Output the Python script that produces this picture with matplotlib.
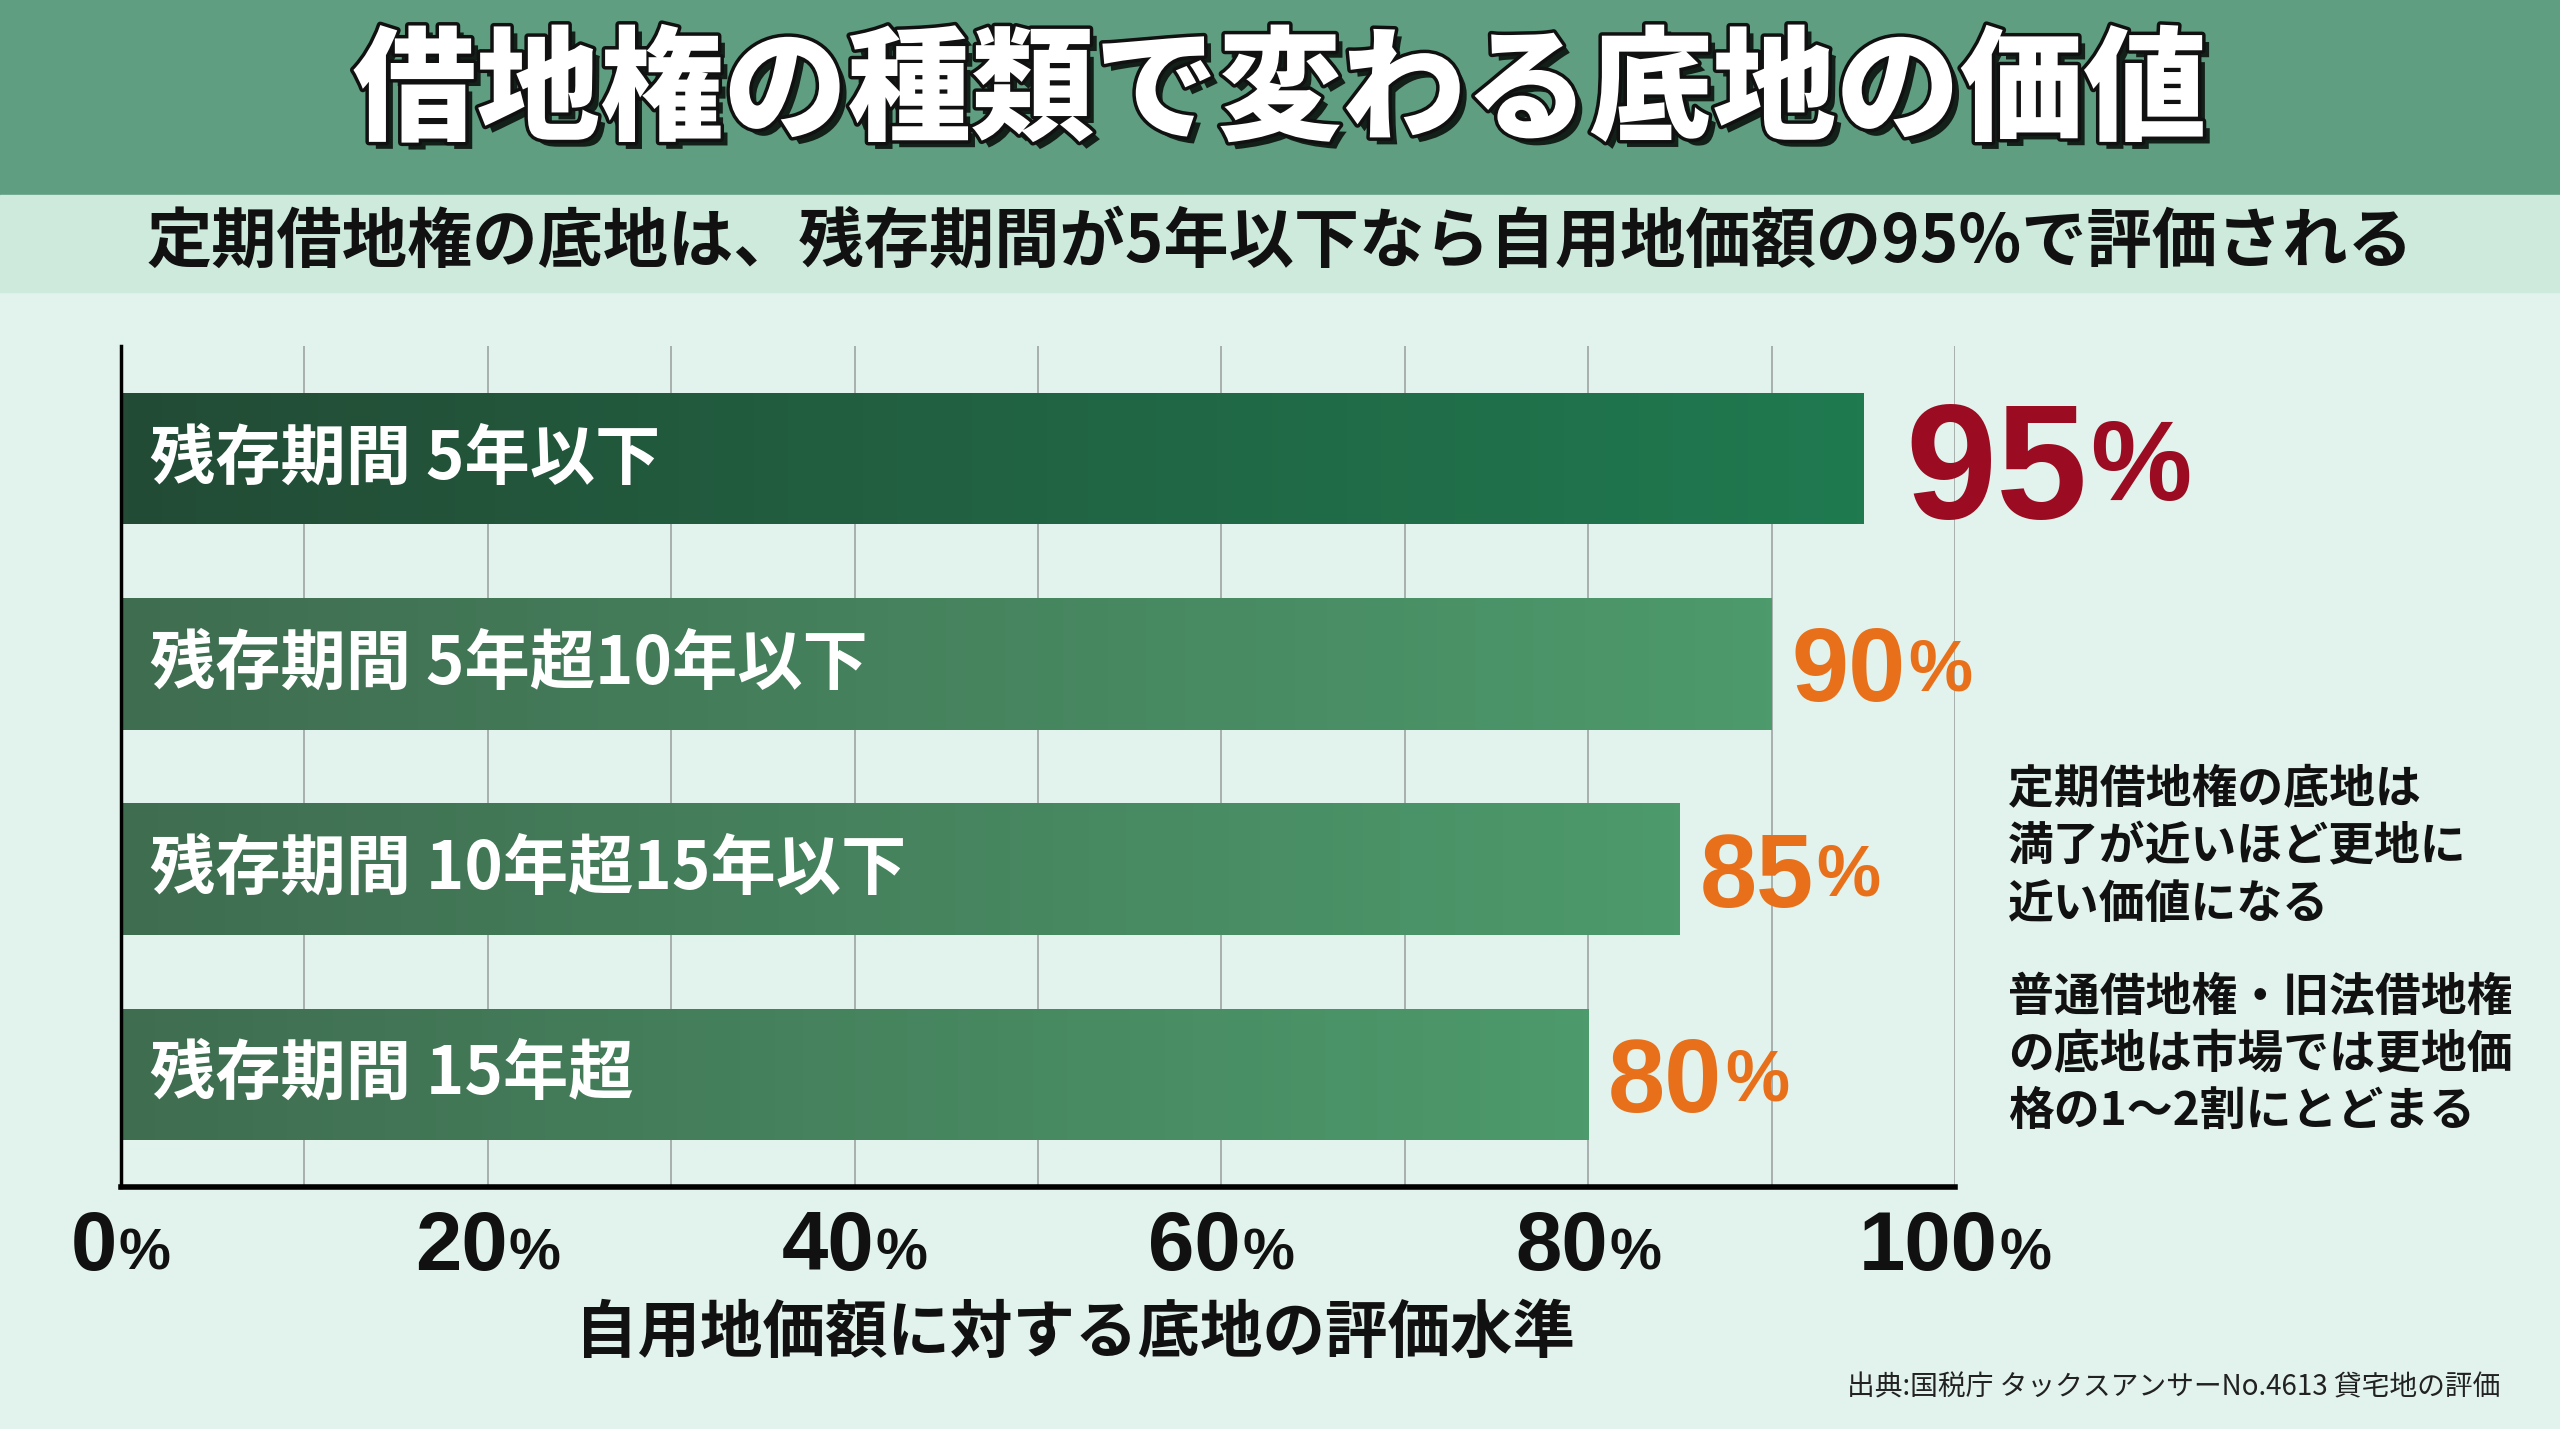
import numpy as np
import matplotlib.pyplot as plt
import matplotlib.patheffects as pe
from matplotlib.colors import LinearSegmentedColormap
from matplotlib.transforms import blended_transform_factory

plt.rcParams['font.family'] = ['Noto Sans CJK JP', 'DejaVu Sans']

# data
categories = ["残存期間 5年以下", "残存期間 5年超10年以下", "残存期間 10年超15年以下", "残存期間 15年超"]
values = [95, 90, 85, 80]
tick_values = [0, 20, 40, 60, 80, 100]
title = "借地権の種類で変わる底地の価値"
subtitle = "定期借地権の底地は、残存期間が5年以下なら自用地価額の95%で評価される"
xlabel = "自用地価額に対する底地の評価水準"
note_lines = ["定期借地権の底地は", "満了が近いほど更地に", "近い価値になる",
              "普通借地権・旧法借地権", "の底地は市場では更地価", "格の1〜2割にとどまる"]
source = "出典:国税庁 タックスアンサーNo.4613 貸宅地の評価"

BG = "#e2f3ed"
DIGITS = "Liberation Sans"
fig = plt.figure(figsize=(25.6, 14.29), dpi=100, facecolor=BG)
renderer = fig.canvas.get_renderer()

# header bands
fig.patches.append(plt.Rectangle((0, 1 - 195 / 1429), 1, 195 / 1429, transform=fig.transFigure,
                                 color="#5f9e80", zorder=0))
fig.patches.append(plt.Rectangle((0, 1 - 292 / 1429), 1, 97 / 1429, transform=fig.transFigure,
                                 color="#cdeadc", zorder=0))

fig.text(0.5, 1 - 94 / 1429, title, ha="center", va="center", fontsize=89, fontweight="heavy",
         color="white",
         path_effects=[pe.withSimplePatchShadow(offset=(5, -5), shadow_rgbFace="black", alpha=0.8),
                       pe.withStroke(linewidth=5, foreground="#111111")])
fig.text(0.5, 1 - 242 / 1429, subtitle, ha="center", va="center", fontsize=47,
         fontweight="bold", color="#111111")

ax = fig.add_axes([121 / 2560, 1 - 1187 / 1429, (1955 - 121) / 2560, (1187 - 346) / 1429])
ax.set_facecolor("none")
ax.set_xlim(0, 100)
ax.set_ylim(3.55, -0.55)
ax.set_xticks(np.arange(0, 101, 10))
ax.grid(axis="x", color="#a7b0ac", linewidth=1.4, zorder=0)
ax.tick_params(length=0, labelbottom=False, labelleft=False)
ax.set_yticks([])
for s in ["top", "right"]:
    ax.spines[s].set_visible(False)
ax.spines["left"].set_linewidth(2.5)
ax.spines["bottom"].set_linewidth(4)

ypos = np.arange(len(categories))
bars = ax.barh(ypos, values, height=0.64, color="none", zorder=2)

cmap_dark = LinearSegmentedColormap.from_list("d", ["#234b35", "#1f7a50"])
cmap_mid = LinearSegmentedColormap.from_list("m", ["#3f6d50", "#4d9a6c"])
grad = np.linspace(0, 1, 256).reshape(1, -1)
for i, b in enumerate(bars):
    x0, y0, w, h = b.get_x(), b.get_y(), b.get_width(), b.get_height()
    im = ax.imshow(grad, extent=(x0, x0 + w, y0 + h, y0), aspect="auto",
                   cmap=cmap_dark if i == 0 else cmap_mid, zorder=2)
    im.set_clip_path(b)
    ax.annotate(categories[i], (0, ypos[i]), xytext=(21, 0), textcoords="offset points",
                ha="left", va="center", fontsize=47, fontweight="bold", color="white", zorder=4)


def width_pt(t):
    return t.get_window_extent(renderer).width * 72 / fig.dpi


# value labels
for i, v in enumerate(values):
    if i == 0:
        color, big, small, off = "#9b0c22", 118, 82, 30
    else:
        color, big, small, off = "#e8701a", 74, 52, 14
    t = ax.annotate(str(v), (v, ypos[i]), xytext=(off, 0), textcoords="offset points",
                    ha="left", va="center_baseline", fontsize=big, fontweight="bold",
                    color=color, family=DIGITS, zorder=4)
    ax.annotate("%", (v, ypos[i]), xytext=(off + width_pt(t) + 2, 0), textcoords="offset points",
                ha="left", va="center_baseline", fontsize=small, fontweight="bold",
                color=color, family=DIGITS, zorder=4)

# tick labels with small percent sign
trans = blended_transform_factory(ax.transData, fig.transFigure)
ty = 1 - 1270 / 1429
for tv in tick_values:
    tn = ax.annotate(str(tv), (tv, ty), xycoords=trans, xytext=(0, 0), textcoords="offset points",
                     ha="left", va="baseline", fontsize=60, fontweight="bold",
                     family=DIGITS, color="#111111", annotation_clip=False)
    tp = ax.annotate("%", (tv, ty), xycoords=trans, xytext=(0, 0), textcoords="offset points",
                     ha="left", va="baseline", fontsize=42, fontweight="bold",
                     family=DIGITS, color="#111111", annotation_clip=False)
    wn, wp = width_pt(tn), width_pt(tp)
    shift = (wn + wp + 1) / 2
    tn.set_position((-shift, 0))
    tp.set_position((-shift + wn + 1, 0))

fig.text(1075 / 2560, 1 - 1333 / 1429, xlabel, ha="center", va="center", fontsize=45,
         fontweight="bold", color="#111111")

note_y = [790, 847, 905, 998, 1055, 1112]
for line, y in zip(note_lines, note_y):
    fig.text(2008 / 2560, 1 - y / 1429, line, ha="left", va="center", fontsize=33,
             fontweight="bold", color="#111111")

fig.text(2500 / 2560, 1 - 1387 / 1429, source, ha="right", va="center", fontsize=20,
         color="#222222")

fig.savefig("out.png", dpi=100, facecolor=BG)
